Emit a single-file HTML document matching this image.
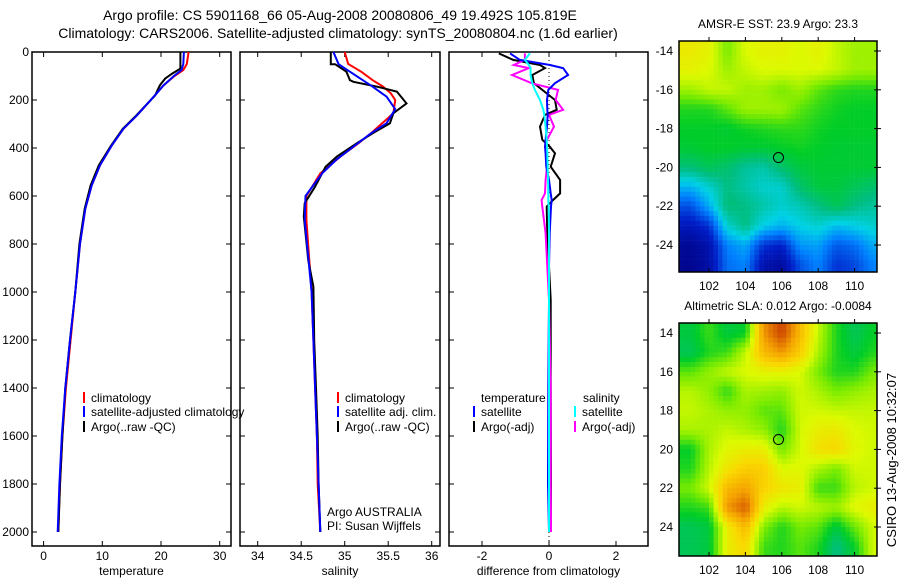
<!DOCTYPE html>
<html><head><meta charset="utf-8"><style>
html,body{margin:0;padding:0;background:#fff;}
svg{display:block;font-family:"Liberation Sans",sans-serif;}
</style></head><body>
<svg id="fig" width="900" height="580" viewBox="0 0 900 580">
<rect width="900" height="580" fill="#fff"/>
<text x="340" y="20" font-size="14" text-anchor="middle">Argo profile: CS 5901168_66 05-Aug-2008 20080806_49 19.492S 105.819E</text>
<text x="338" y="38" font-size="14" text-anchor="middle">Climatology: CARS2006. Satellite-adjusted climatology: synTS_20080804.nc (1.6d earlier)</text>
<g id="g1"></g>
<g id="g2"></g>
<g id="g3"></g>
<g id="m1"></g>
<g id="m2"></g>
<text transform="translate(896,460) rotate(-90)" font-size="13" text-anchor="middle">CSIRO 13-Aug-2008 10:32:07</text>
</svg>
<script>
// ---------- profile data ----------
const depthClim = [0,50,75,100,140,180,264,320,390,472,556,653,800,1000,1200,1400,1600,1800,2000];
const tempClim  = [24.7,24.4,23.8,22.3,20.4,19.0,15.9,13.6,11.6,9.6,8.2,7.1,6.2,5.4,4.6,3.8,3.2,2.8,2.5];
const tempSat   = [23.9,23.8,23.5,22.2,20.4,19.0,15.9,13.6,11.6,9.6,8.2,7.1,6.2,5.4,4.5,3.7,3.1,2.7,2.4];
const depthArgoT = [0,69,90,111,139,181,264,320,390,472,556,653,800,1000,1200,1400,1600,1800,2000];
const tempArgo   = [23.3,23.3,21.9,20.7,19.8,19.0,15.8,13.5,11.5,9.4,8.0,7.0,6.1,5.4,4.5,3.7,3.2,2.8,2.5];

const depthSalClim = [0,50,82,117,144,172,200,255,339,380,436,506,600,700,1000,1200,1400,1600,1800,2000];
const salClim      = [35.0,35.04,35.19,35.32,35.44,35.53,35.58,35.56,35.30,35.16,34.95,34.72,34.56,34.56,34.62,34.64,34.66,34.68,34.69,34.72];
const depthSalSat  = [0,51,82,144,186,238,297,339,400,450,506,600,700,1000,1200,1400,1600,1800,2000];
const salSat       = [34.87,34.93,35.06,35.32,35.48,35.58,35.48,35.30,35.08,34.90,34.74,34.55,34.54,34.62,34.64,34.66,34.68,34.70,34.72];
const depthSalArgo = [0,51,51,82,117,124,144,165,214,255,297,339,380,436,478,561,630,686,755,866,978,1200,1400,1600,1800,2000];
const salArgo      = [34.84,34.84,34.89,35.02,35.06,35.10,35.37,35.60,35.71,35.56,35.52,35.32,35.14,34.91,34.78,34.66,34.54,34.53,34.55,34.58,34.64,34.65,34.67,34.69,34.70,34.72];

const depthDiff = [6,33,54,67,96,130,158,200,241,262,311,366,394,422,478,533,589,617,644,755,894,1033,1400,1800,2000];
const diffTSat  = [-1.16,-0.87,0.03,0.42,0.57,0.18,-0.02,-0.06,-0.05,-0.04,-0.06,-0.10,-0.12,-0.10,-0.08,0.0,0.05,0.08,0.06,0.02,0.0,0.0,-0.02,-0.03,0.0];
const diffTArgo = [-1.5,-1.07,-0.27,-0.12,-0.5,-0.45,-0.2,0.18,0.23,-0.12,-0.27,-0.2,0.02,0.18,0.05,0.33,0.33,0.12,-0.07,-0.05,0.0,0.05,0.05,0.06,0.05];
const diffSSat  = [-0.57,-0.72,-0.6,-0.55,-0.55,-0.5,-0.42,-0.27,-0.17,-0.14,-0.1,-0.07,-0.06,-0.05,-0.04,-0.03,-0.02,-0.02,-0.01,0.0,0.0,0.0,0.0,0.0,0.0];
const diffSArgo = [-0.72,-0.72,-1.05,-0.6,-1.1,-0.52,0.27,0.2,0.42,0.0,0.15,-0.06,-0.1,-0.08,-0.06,-0.1,-0.12,-0.22,-0.2,-0.1,-0.05,0.0,0.05,0.05,0.06];

const depthTicks = [0,200,400,600,800,1000,1200,1400,1600,1800,2000];
const tempTicks = [0,10,20,30];
const salTicks = [34,34.5,35,35.5,36];
const salTickLabels = ["34","34.5","35","35.5","36"];
const diffTicks = [-2,0,2];

// ---------- map data (grid nodes every 1 degree) ----------
const mapLons = [101,102,103,104,105,106,107,108,109,110,111];
const sstLats = [-14,-15,-16,-17,-18,-19,-20,-21,-22,-23,-24,-25];
const sstVals = [
[0.64,0.62,0.52,0.60,0.62,0.62,0.60,0.62,0.58,0.55,0.55],
[0.62,0.60,0.55,0.58,0.60,0.60,0.60,0.60,0.58,0.55,0.55],
[0.55,0.58,0.58,0.55,0.55,0.52,0.55,0.50,0.47,0.46,0.46],
[0.46,0.46,0.50,0.55,0.55,0.55,0.50,0.47,0.45,0.44,0.44],
[0.44,0.44,0.43,0.45,0.46,0.47,0.47,0.45,0.44,0.44,0.44],
[0.43,0.44,0.44,0.43,0.43,0.44,0.45,0.44,0.43,0.43,0.43],
[0.37,0.40,0.38,0.34,0.33,0.38,0.42,0.43,0.43,0.43,0.43],
[0.25,0.30,0.36,0.33,0.30,0.30,0.38,0.42,0.42,0.40,0.38],
[0.15,0.24,0.37,0.36,0.33,0.30,0.32,0.36,0.40,0.36,0.34],
[0.08,0.12,0.30,0.36,0.28,0.25,0.28,0.30,0.26,0.28,0.30],
[0.03,0.06,0.20,0.24,0.12,0.10,0.22,0.23,0.16,0.18,0.24],
[0.02,0.05,0.18,0.20,0.06,0.04,0.15,0.20,0.12,0.14,0.20]];
const slaLats = [14,15,16,17,18,19,20,21,22,23,24,25];
const slaVals = [
[0.42,0.48,0.42,0.44,0.80,0.92,0.74,0.58,0.46,0.40,0.44],
[0.40,0.46,0.48,0.58,0.74,0.80,0.70,0.56,0.46,0.42,0.46],
[0.50,0.54,0.58,0.60,0.62,0.62,0.60,0.52,0.46,0.46,0.52],
[0.57,0.54,0.47,0.56,0.55,0.54,0.59,0.56,0.52,0.54,0.56],
[0.58,0.56,0.54,0.54,0.50,0.50,0.59,0.59,0.58,0.58,0.58],
[0.56,0.56,0.58,0.56,0.54,0.46,0.59,0.63,0.64,0.60,0.59],
[0.44,0.56,0.61,0.63,0.63,0.52,0.59,0.66,0.68,0.61,0.59],
[0.46,0.57,0.65,0.70,0.70,0.60,0.61,0.56,0.52,0.59,0.59],
[0.52,0.59,0.74,0.78,0.69,0.65,0.63,0.48,0.48,0.57,0.59],
[0.46,0.48,0.80,0.88,0.63,0.57,0.59,0.57,0.55,0.61,0.63],
[0.40,0.42,0.63,0.74,0.53,0.46,0.52,0.50,0.42,0.51,0.59],
[0.40,0.42,0.63,0.68,0.48,0.46,0.50,0.46,0.36,0.44,0.59]];
const lonTicks = [102,104,106,108,110];
const sstLatTicks = [-14,-16,-18,-20,-22,-24];
const slaLatTicks = [14,16,18,20,22,24];
const argoLon = 105.819, argoLatS = -19.492, argoLatN = 19.492;

// ---------- helpers ----------
const NS="http://www.w3.org/2000/svg";
function mk(parent,tag,attrs,txt){const e=document.createElementNS(NS,tag);for(const k in attrs)e.setAttribute(k,attrs[k]);if(txt!==undefined)e.textContent=txt;parent.appendChild(e);return e;}
const yD = d => 52 + d*0.24;
const PT = 52, PB = 546;

function frame(g,x0,x1,xs,xticks,xlabels,ylabelsOn,title){
  mk(g,'rect',{x:x0,y:PT,width:x1-x0,height:PB-PT,fill:'none',stroke:'#000','stroke-width':1.5});
  xticks.forEach((v,i)=>{const x=xs(v);
    mk(g,'line',{x1:x,x2:x,y1:PB,y2:PB-5,stroke:'#000'});
    mk(g,'line',{x1:x,x2:x,y1:PT,y2:PT+5,stroke:'#000'});
    const t=mk(g,'text',{x:x,y:560,'font-size':12,'text-anchor':'middle'},xlabels[i]);
    });
  depthTicks.forEach(d=>{const y=yD(d);
    mk(g,'line',{x1:x0,x2:x0+5,y1:y,y2:y,stroke:'#000'});
    mk(g,'line',{x1:x1,x2:x1-5,y1:y,y2:y,stroke:'#000'});
    if(ylabelsOn){const t=mk(g,'text',{x:29,y:y+4,'font-size':12,'text-anchor':'end'},String(d));
      }});
  const t=mk(g,'text',{x:(x0+x1)/2,y:575,'font-size':12,'text-anchor':'middle'},title);
  
}
function line(g,xs,depths,vals,color,name){
  const d=depths.map((dd,i)=>(i?'L':'M')+xs(vals[i]).toFixed(1)+','+yD(dd).toFixed(1)).join('');
  const p=mk(g,'path',{d:d,fill:'none',stroke:color,'stroke-width':2});
  
}
function legItem(g,x,y,color,txt,name){
  mk(g,'line',{x1:x,x2:x,y1:y-10,y2:y+1,stroke:color,'stroke-width':2});
  const t=mk(g,'text',{x:x+7,y:y,'font-size':12},txt);
  
}

// Panel 1
const g1=document.getElementById('g1');
const xT = v => 43.6 + v*5.87;
frame(g1,32,231,xT,tempTicks,tempTicks.map(String),true,'temperature');
line(g1,xT,depthClim,tempClim,'#f00','temp-climatology-line');
line(g1,xT,depthArgoT,tempArgo,'#000','temp-argo-line');
line(g1,xT,depthClim,tempSat,'#00f','temp-satellite-line');
legItem(g1,84,402,'#f00','climatology','legend-climatology');
legItem(g1,84,416,'#00f','satellite-adjusted climatology','legend-satellite');
legItem(g1,84,431,'#000','Argo(..raw -QC)','legend-argo');

// Panel 2
const g2=document.getElementById('g2');
const xS = v => 257.7 + (v-34)*87;
frame(g2,240,440,xS,salTicks,salTickLabels,false,'salinity');
line(g2,xS,depthSalClim,salClim,'#f00','sal-climatology-line');
line(g2,xS,depthSalArgo,salArgo,'#000','sal-argo-line');
line(g2,xS,depthSalSat,salSat,'#00f','sal-satellite-line');
legItem(g2,338,402,'#f00','climatology','legend-climatology');
legItem(g2,338,416,'#00f','satellite adj. clim.','legend-satellite');
legItem(g2,338,431,'#000','Argo(..raw -QC)','legend-argo');
let t=mk(g2,'text',{x:327,y:516,'font-size':12},'Argo AUSTRALIA');
t=mk(g2,'text',{x:327,y:530,'font-size':12},'PI: Susan Wijffels');

// Panel 3
const g3=document.getElementById('g3');
const xD = v => 549 + v*33.5;
frame(g3,449,648,xD,diffTicks,diffTicks.map(String),false,'difference from climatology');
mk(g3,'line',{x1:xD(0),x2:xD(0),y1:PT,y2:PB,stroke:'#000','stroke-dasharray':'1,3'});
line(g3,xD,depthDiff,diffTArgo,'#000','diff-temp-argo-line');
line(g3,xD,depthDiff,diffSArgo,'#f0f','diff-sal-argo-line');
line(g3,xD,depthDiff,diffTSat,'#00f','diff-temp-satellite-line');
line(g3,xD,depthDiff,diffSSat,'#0ff','diff-sal-satellite-line');
t=mk(g3,'text',{x:481,y:402,'font-size':12},'temperature');
t=mk(g3,'text',{x:583,y:402,'font-size':12},'salinity');
legItem(g3,474,416,'#00f','satellite','legend-temp-satellite');
legItem(g3,474,431,'#000','Argo(-adj)','legend-temp-argo');
legItem(g3,575,416,'#0ff','satellite','legend-sal-satellite');
legItem(g3,575,431,'#f0f','Argo(-adj)','legend-sal-argo');

// Maps
const pal=[[0,[0,0,130]],[0.1,[0,30,200]],[0.2,[0,130,255]],[0.28,[0,210,230]],[0.36,[0,190,130]],[0.44,[0,205,40]],[0.52,[120,235,0]],[0.6,[220,250,0]],[0.68,[250,215,0]],[0.78,[245,165,0]],[0.9,[210,80,0]],[1,[180,30,0]]];
function col(v){v=Math.max(0,Math.min(1,v));for(let i=1;i<pal.length;i++){if(v<=pal[i][0]){const a=pal[i-1],b=pal[i],f=(v-a[0])/(b[0]-a[0]);return 'rgb('+a[1].map((c,k)=>Math.round(c+(b[1][k]-c)*f)).join(',')+')';}}return 'rgb(180,30,0)';}
function sample(vals,fi,fj){fi=Math.max(0,Math.min(vals.length-1,fi));fj=Math.max(0,Math.min(vals[0].length-1,fj));
  const i0=Math.floor(fi),j0=Math.floor(fj),i1=Math.min(i0+1,vals.length-1),j1=Math.min(j0+1,vals[0].length-1),a=fi-i0,b=fj-j0;
  return vals[i0][j0]*(1-a)*(1-b)+vals[i0][j1]*(1-a)*b+vals[i1][j0]*a*(1-b)+vals[i1][j1]*a*b;}
function drawMap(id,top,bottom,lats,vals,latTicks,latLabel,title,argoLat,clipId){
  const g=document.getElementById(id);
  const L=679,R=877;
  const xL = lon => 709 + (lon-102)*18.2;
  const yL = lat => top+10 + (Math.abs(lat)-14)*19.4;
  const defs=mk(g,'defs',{});const cp=mk(defs,'clipPath',{id:clipId});mk(cp,'rect',{x:L,y:top,width:R-L,height:bottom-top});
  const cg=mk(g,'g',{'clip-path':'url(#'+clipId+')'});
  for(let lat=13.25;lat<26;lat+=0.25){for(let lon=100.25;lon<111.5;lon+=0.25){
    const fi=(lat+0.125-14), fj=(lon+0.125-101);
    const r=mk(cg,'rect',{x:xL(lon).toFixed(2),y:yL(lat).toFixed(2),width:4.8,height:5.1,fill:col(sample(vals,fi,fj))});
    }}
  mk(g,'rect',{x:L,y:top,width:R-L,height:bottom-top,fill:'none',stroke:'#000','stroke-width':1.5});
  lonTicks.forEach(v=>{const x=xL(v);mk(g,'line',{x1:x,x2:x,y1:top,y2:top-4,stroke:'#000'});mk(g,'line',{x1:x,x2:x,y1:bottom,y2:bottom-4,stroke:'#000'});
    const tt=mk(g,'text',{x:x,y:bottom+18,'font-size':12,'text-anchor':'middle'},String(v));});
  latTicks.forEach(v=>{const y=yL(v);mk(g,'line',{x1:R-3,x2:R+4,y1:y,y2:y,stroke:'#000'});
    const tt=mk(g,'text',{x:673,y:y+4,'font-size':12,'text-anchor':'end'},latLabel(v));});
  const c=mk(g,'circle',{cx:xL(argoLon),cy:yL(argoLat),r:5,fill:'none',stroke:'#000','stroke-width':1});
  
  const tt=mk(g,'text',{x:778,y:top-13,'font-size':12,'text-anchor':'middle'},title);
  
}
drawMap('m1',41,272,sstLats,sstVals,sstLatTicks,v=>String(v),'AMSR-E SST: 23.9 Argo: 23.3',argoLatS,'c1');
drawMap('m2',323,556,slaLats,slaVals,slaLatTicks,v=>String(v),'Altimetric SLA: 0.012 Argo: -0.0084',argoLatN,'c2');
</script>
</body></html>
